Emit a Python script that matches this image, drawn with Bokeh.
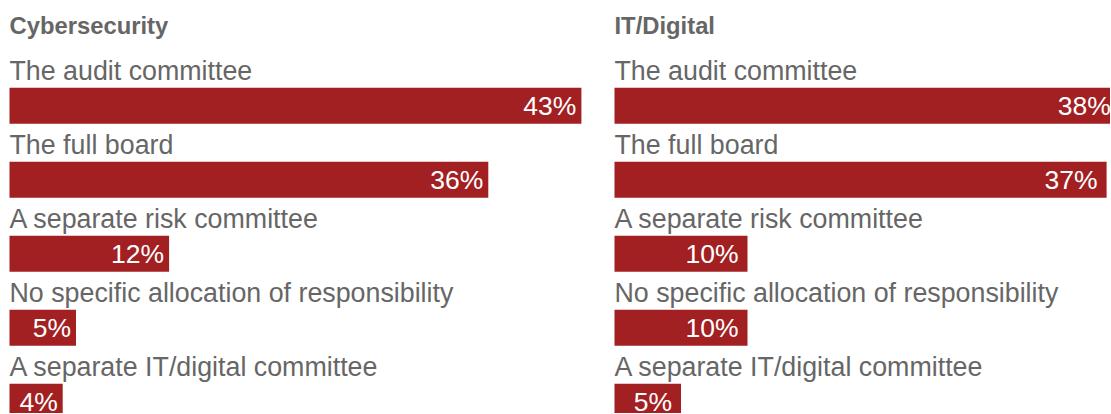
from bokeh.plotting import figure
from bokeh.layouts import row
from bokeh.models import ColumnDataSource, Range1d
from bokeh.core.properties import value
from bokeh.embed import file_html
from bokeh.resources import INLINE

# ---- data ----
categories = [
    "The audit committee",
    "The full board",
    "A separate risk committee",
    "No specific allocation of responsibility",
    "A separate IT/digital committee",
]
cybersecurity = [43, 36, 12, 5, 4]
it_digital = [38, 37, 10, 10, 5]
panel_titles = ["Cybersecurity", "IT/Digital"]

# ---- styling ----
BAR_COLOR = "#a21f22"
TEXT_COLOR = "#666666"
FONT = "Liberation Sans"
PX_PER_PCT = 13.3
ROW_PX = 74.0
BAR_PX = 36.0
FIG_H = 413
FIRST_BAR_CENTER_PX = 105.3
LABEL_OFFSET_PX = -34.6
TITLE_OFFSET_PX = -80.0


def make_panel(title, values, width, left_px, pad_px):
    n = len(values)
    ys = list(range(n))
    src = ColumnDataSource(dict(
        y=ys,
        value=values,
        pct=[f"{v}%" for v in values],
        cat=categories,
        cat_y=[y + LABEL_OFFSET_PX / ROW_PX for y in ys],
    ))
    x0 = -left_px / PX_PER_PCT
    x_range = Range1d(x0, x0 + width / PX_PER_PCT)
    y_top = -FIRST_BAR_CENTER_PX / ROW_PX
    y_range = Range1d(y_top + FIG_H / ROW_PX, y_top)

    p = figure(width=width, height=FIG_H, x_range=x_range, y_range=y_range,
               output_backend="svg", toolbar_location=None,
               x_axis_location=None, y_axis_location=None,
               min_border=0, outline_line_color=None)
    p.grid.visible = False
    p.background_fill_color = "white"
    p.border_fill_color = "white"

    p.hbar(y="y", left=0, right="value", height=BAR_PX / ROW_PX,
           color=BAR_COLOR, line_color=None, source=src)
    p.text(x="value", y="y", text="pct", source=src,
           x_offset=-pad_px, text_align="right", text_baseline="middle",
           text_color="white", text_font=value(FONT), text_font_size="26.5px")
    p.text(x=0, y="cat_y", text="cat", source=src,
           text_align="left", text_baseline="alphabetic",
           text_color=TEXT_COLOR, text_font=value(FONT), text_font_size="26.8px")
    p.text(x=[0], y=[TITLE_OFFSET_PX / ROW_PX], text=[title],
           text_align="left", text_baseline="alphabetic",
           text_color=TEXT_COLOR, text_font=value(FONT), text_font_style="bold",
           text_font_size="23.8px")
    return p


p1 = make_panel(panel_titles[0], cybersecurity, 607, 9, 5)
p2 = make_panel(panel_titles[1], it_digital, 503, 7, 9)

layout = row(p1, p2)
open("out.html", "w").write(file_html(layout, INLINE))
